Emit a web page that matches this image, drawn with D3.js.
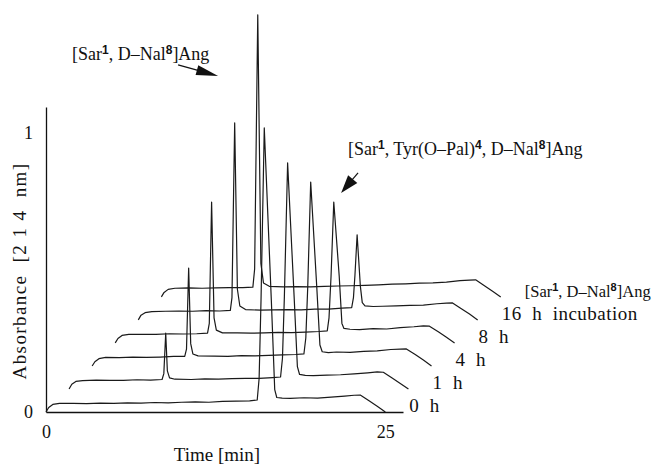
<!DOCTYPE html>
<html lang="en">
<head>
<meta charset="utf-8">
<title>HPLC incubation traces</title>
<script src="https://d3js.org/d3.v7.min.js"></script>
<style>
  body { margin: 0; background: #fff; }
  .trace { fill: none; stroke: #1a1a1a; stroke-width: 1.2px; stroke-linejoin: round; }
  .lbl { font-family: "Liberation Serif", "Times New Roman", serif; fill: #111; white-space: pre; }
  .sup { font-family: "Liberation Sans", Arial, sans-serif; font-weight: bold; }
</style>
</head>
<body>
<div id="viz"></div>
<script>
// labels at the right end of each trace, bottom trace first (last one is the standard)
var traceNames = ["0  h", "1  h", "4  h", "8  h", "16  h  incubation", "std"];
var xTicks = [0, 25];
var yTicks = [0, 1];
// waterfall shift between consecutive traces: [min], [AU]
var shiftTime = 1.7, shiftAbs = 0.0825;

// [time (min), absorbance] (unshifted)
var trace0h = [[0,0],[0.2,0.016],[0.5,0.027],[1,0.031],[2,0.031],[3,0.030],[4,0.032],[5,0.031],[6,0.033],[7,0.032],[8,0.034],[9,0.033],[10,0.035],[11,0.036],[12,0.035],[13,0.038],[14,0.039],[15,0.040],[15.56,0.043],[15.7,0.12],[15.84,0.40],[16.08,1.018],[16.6,0.40],[16.85,0.08],[17.0,0.052],[17.4,0.050],[18,0.049],[19,0.051],[20,0.050],[21,0.053],[22,0.057],[22.7,0.060],[23.15,0.061],[23.8,0.040],[24.4,0.021],[25,0]];
var trace1h = [[0,0],[0.2,0.017],[0.5,0.027],[1,0.030],[2,0.032],[3,0.031],[4,0.031],[5,0.033],[6,0.032],[6.85,0.034],[6.98,0.055],[7.12,0.200],[7.24,0.065],[7.4,0.040],[7.8,0.035],[9,0.034],[10,0.036],[11,0.035],[12,0.037],[13,0.038],[14,0.038],[15,0.041],[15.58,0.043],[15.72,0.11],[15.86,0.33],[16.1,0.81],[16.58,0.33],[16.82,0.08],[16.98,0.052],[17.4,0.049],[18,0.048],[19,0.050],[20,0.051],[21,0.054],[22,0.058],[22.7,0.061],[23.15,0.060],[23.8,0.039],[24.4,0.020],[25,0]];
var trace4h = [[0,0],[0.2,0.015],[0.5,0.026],[1,0.031],[2,0.030],[3,0.032],[4,0.031],[5,0.032],[6,0.034],[6.82,0.034],[6.95,0.06],[7.11,0.351],[7.26,0.08],[7.42,0.043],[7.8,0.036],[9,0.035],[10,0.034],[11,0.037],[12,0.036],[13,0.038],[14,0.040],[15,0.041],[15.6,0.043],[15.74,0.10],[15.88,0.28],[16.1,0.659],[16.55,0.28],[16.78,0.075],[16.95,0.051],[17.4,0.048],[18,0.050],[19,0.049],[20,0.052],[21,0.054],[22,0.059],[22.7,0.060],[23.15,0.061],[23.8,0.041],[24.4,0.021],[25,0]];
var trace8h = [[0,0],[0.2,0.016],[0.5,0.027],[1,0.031],[2,0.031],[3,0.031],[4,0.033],[5,0.032],[6,0.033],[6.8,0.035],[6.93,0.07],[7.1,0.505],[7.28,0.09],[7.45,0.046],[7.9,0.036],[9,0.036],[10,0.035],[11,0.036],[12,0.038],[13,0.037],[14,0.039],[15,0.041],[15.62,0.043],[15.75,0.09],[15.9,0.24],[16.1,0.505],[16.5,0.24],[16.7,0.07],[16.85,0.052],[17.3,0.049],[18,0.048],[19,0.051],[20,0.050],[21,0.055],[22,0.058],[22.7,0.061],[23.15,0.060],[23.8,0.040],[24.4,0.020],[25,0]];
var trace16h = [[0,0],[0.2,0.017],[0.5,0.026],[1,0.030],[2,0.031],[3,0.032],[4,0.031],[5,0.033],[6,0.032],[6.78,0.034],[6.9,0.08],[7.1,0.706],[7.3,0.11],[7.48,0.05],[7.9,0.037],[9,0.035],[10,0.036],[11,0.037],[12,0.036],[13,0.039],[14,0.039],[15,0.042],[15.72,0.044],[15.85,0.08],[15.96,0.16],[16.12,0.305],[16.36,0.12],[16.5,0.062],[16.7,0.050],[17.3,0.048],[18,0.049],[19,0.050],[20,0.052],[21,0.053],[22,0.058],[22.7,0.060],[23.15,0.061],[23.8,0.040],[24.4,0.021],[25,0]];
var traceStd = [[0,0],[0.2,0.016],[0.5,0.027],[1,0.031],[2,0.032],[3,0.031],[4,0.032],[5,0.033],[6,0.033],[6.74,0.035],[6.87,0.10],[7.1,1.011],[7.33,0.12],[7.52,0.05],[7.95,0.038],[9,0.036],[10,0.037],[11,0.036],[12,0.038],[13,0.039],[14,0.040],[15,0.041],[16,0.043],[17,0.046],[18,0.047],[19,0.049],[20,0.050],[21,0.053],[22,0.058],[22.7,0.060],[23.15,0.061],[23.8,0.040],[24.4,0.020],[25,0]];
var traces = [trace0h, trace1h, trace4h, trace8h, trace16h, traceStd];

var margin = {top: 107, right: 249, bottom: 54, left: 46},
    width = 652 - margin.left - margin.right,
    height = 466 - margin.top - margin.bottom;

var root = d3.select("#viz")
  .append("svg")
    .attr("width", width + margin.left + margin.right)
    .attr("height", height + margin.top + margin.bottom);
var svg = root.append("g")
    .attr("transform", "translate(" + margin.left + "," + margin.top + ")");

var x = d3.scaleLinear().domain([0, 26.3]).range([0, width]);
var y = d3.scaleLinear().domain([0, 1.093]).range([height, 0]);

// axes: plain lines, no tick marks
var xAxis = svg.append("g")
    .attr("transform", "translate(0," + height + ")")
    .call(d3.axisBottom(x).tickValues(xTicks).tickFormat(d3.format("d")).tickSize(0).tickPadding(13));
var yAxis = svg.append("g")
    .call(d3.axisLeft(y).tickValues(yTicks).tickFormat(d3.format("d")).tickSize(0).tickPadding(13));
[xAxis, yAxis].forEach(function(a) {
  a.select(".domain").attr("stroke", "#111").attr("stroke-width", 1.3);
  a.selectAll("text").attr("class", "lbl").attr("font-size", 18)
    .attr("font-family", "Liberation Serif, serif").attr("fill", "#111");
});

// traces
traces.forEach(function(tr, i) {
  var line = d3.line()
    .x(function(d) { return x(d[0] + i * shiftTime); })
    .y(function(d) { return y(d[1] + i * shiftAbs); });
  svg.append("path").datum(tr).attr("class", "trace").attr("d", line);
});

// trace labels
traceNames.forEach(function(name, i) {
  var t = svg.append("text").attr("class", "lbl")
    .attr("x", x(25 + i * shiftTime) + 24)
    .attr("y", y(i * shiftAbs));
  if (name == "std") {
    t.style("font-size", "16.5px");
    t.append("tspan").text("[Sar");
    t.append("tspan").attr("class", "sup").attr("dy", -6).style("font-size", "11px").text("1");
    t.append("tspan").attr("dy", 6).text(", D\u2013Nal");
    t.append("tspan").attr("class", "sup").attr("dy", -6).style("font-size", "11px").text("8");
    t.append("tspan").attr("dy", 6).text("]Ang");
  } else {
    t.style("font-size", "19px").style("letter-spacing", "0.5px").text(name);
  }
});

// axis titles
root.append("text").attr("class", "lbl")
  .attr("transform", "translate(26,271) rotate(-90)")
  .attr("text-anchor", "middle")
  .style("font-size", "19px").style("letter-spacing", "1.4px")
  .text("Absorbance  [2 1 4  nm]");
root.append("text").attr("class", "lbl")
  .attr("x", 217).attr("y", 461)
  .attr("text-anchor", "middle")
  .style("font-size", "19px")
  .text("Time [min]");

// peak annotations
function label(px, py, parts) {
  var t = root.append("text").attr("class", "lbl").attr("x", px).attr("y", py).style("font-size", "18px");
  parts.forEach(function(p) {
    if (p.sup) {
      t.append("tspan").attr("class", "sup").attr("dy", -6).style("font-size", "12px").text(p.sup);
    } else {
      t.append("tspan").attr("dy", p.after ? 6 : 0).text(p.s);
    }
  });
}
label(72, 60, [{s: "[Sar"}, {sup: "1"}, {s: ", D\u2013Nal", after: true}, {sup: "8"}, {s: "]Ang", after: true}]);
label(348, 155, [{s: "[Sar"}, {sup: "1"}, {s: ", Tyr(O\u2013Pal)", after: true}, {sup: "4"}, {s: ", D\u2013Nal", after: true}, {sup: "8"}, {s: "]Ang", after: true}]);

function arrow(t0, a0, t1, a1, len, half) {
  var x0 = x(t0), y0 = y(a0), x1 = x(t1), y1 = y(a1);
  var dx = x1 - x0, dy = y1 - y0, n = Math.sqrt(dx * dx + dy * dy);
  var ux = dx / n, uy = dy / n;
  var bx = x1 - ux * len, by = y1 - uy * len;
  svg.append("line").attr("x1", x0).attr("y1", y0).attr("x2", bx + ux * 2).attr("y2", by + uy * 2)
    .attr("stroke", "#111").attr("stroke-width", 1.2);
  svg.append("polygon")
    .attr("points", [[x1, y1], [bx - uy * half, by + ux * half], [bx + uy * half, by - ux * half]].join(" "))
    .attr("fill", "#111");
}
arrow(9.73, 1.244, 12.68, 1.204, 22, 5);
arrow(22.99, 0.857, 21.74, 0.785, 18, 6);
</script>
</body>
</html>
